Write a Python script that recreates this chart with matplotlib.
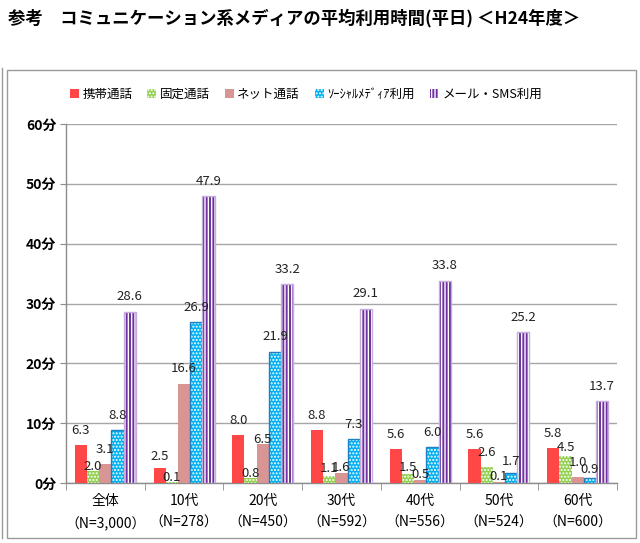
import numpy as np
import matplotlib.pyplot as plt
from matplotlib.patches import Rectangle
from matplotlib.lines import Line2D

plt.rcParams['font.family'] = ['Noto Sans CJK JP', 'DejaVu Sans']
plt.rcParams['hatch.linewidth'] = 1.0

# ---- data ----
groups = ['全体', '10代', '20代', '30代', '40代', '50代', '60代']
samples = ['（N=3,000）', '（N=278）', '（N=450）', '（N=592）', '（N=556）', '（N=524）', '（N=600）']
series = ['携帯通話', '固定通話', 'ネット通話', 'ｿｰｼｬﾙﾒﾃﾞｨｱ利用', 'メール・SMS利用']
mobile = [6.3, 2.5, 8.0, 8.8, 5.6, 5.6, 5.8]
landline = [2.0, 0.1, 0.8, 1.1, 1.5, 2.6, 4.5]
net_call = [3.1, 16.6, 6.5, 1.6, 0.5, 0.1, 1.0]
social = [8.8, 26.9, 21.9, 7.3, 6.0, 1.7, 0.9]
mail = [28.6, 47.9, 33.2, 29.1, 33.8, 25.2, 13.7]
values = [mobile, landline, net_call, social, mail]
yticks = [0, 10, 20, 30, 40, 50, 60]

# ---- style ----
faces = ['#FF4747', '#92D050', '#D99594', '#00B0F0', '#7030A0']
hatches = [None, '.....', None, '.....', '|||||']
outlines = [None, None, None, '#1F7FC0', '#C3AEDC']
# label lift (pixels above bar top, label centre); exceptions for small bars
lift_default = 15
lift_special = {(1, 0): 5, (1, 1): 5, (1, 2): 5, (2, 2): 5, (0, 1): 12,
                (1, 3): 8, (2, 3): 6, (1, 4): 7, (2, 4): 6, (2, 5): 6,
                (3, 5): 11, (1, 6): 9, (3, 6): 8}

fig = plt.figure(figsize=(6.4, 5.43), dpi=100)
ax = fig.add_axes([66 / 640, 1 - 483 / 543, 551 / 640, 359 / 543])

x = np.arange(len(groups))
w = 0.155
for i, vals in enumerate(values):
    pos = x + (i - 2) * w
    if hatches[i]:
        bars = ax.bar(pos, vals, w, color=faces[i], edgecolor='white',
                      hatch=hatches[i], linewidth=0, label=series[i], zorder=3)
    else:
        bars = ax.bar(pos, vals, w, color=faces[i], linewidth=0,
                      label=series[i], zorder=3)
    if outlines[i]:
        ax.bar(pos, vals, w, fill=False, edgecolor=outlines[i],
               linewidth=1.0, zorder=4)
    for j, (p, v) in enumerate(zip(pos, vals)):
        lift = lift_special.get((i, j), lift_default)
        ax.annotate(f'{v:.1f}', (p, v), xytext=(0, lift * 0.72),
                    textcoords='offset points', ha='center', va='center',
                    fontsize=9.5, color='#222222', zorder=5)

ax.set_xlim(-0.5, len(groups) - 0.5)
ax.set_ylim(0, 60)
ax.set_yticks(yticks)
ax.set_yticklabels([f'{t}分' for t in yticks], fontsize=10, fontweight='bold')
ax.yaxis.grid(True, color='#A6A6A6', linewidth=1.0, zorder=0)
ax.set_axisbelow(True)
ax.set_xticks(x)
ax.set_xticklabels([f'{g}\n{s}' for g, s in zip(groups, samples)],
                   fontsize=10, linespacing=1.7)
ax.set_xticks(np.arange(len(groups) + 1) - 0.5, minor=True)
ax.tick_params(axis='x', which='major', length=0, pad=8)
ax.tick_params(axis='x', which='minor', length=5, color='#8C8C8C')
ax.tick_params(axis='y', length=4, color='#8C8C8C', pad=3)
for s in ['top', 'right']:
    ax.spines[s].set_visible(False)
for s in ['left', 'bottom']:
    ax.spines[s].set_color('#8C8C8C')
    ax.spines[s].set_linewidth(1.0)

fig.legend(loc='center', bbox_to_anchor=(306 / 640, 1 - 94 / 543), ncol=5,
           frameon=False, fontsize=9, handlelength=0.7, handleheight=0.7,
           handletextpad=0.3, columnspacing=1.2)

# chart frame
fig.patches.append(Rectangle((7 / 640, 1 - 538 / 543), 629 / 640, 468 / 543,
                             transform=fig.transFigure, fill=False,
                             edgecolor='#9A9A9A', linewidth=1.0))
fig.lines.append(Line2D([2 / 640, 2 / 640], [1 - 538 / 543, 1 - 68 / 543],
                        transform=fig.transFigure, color='#9A9A9A', linewidth=1.0))

fig.text(8 / 640, 1 - 18 / 543,
         '参考　コミュニケーション系メディアの平均利用時間(平日) ＜H24年度＞',
         fontsize=12.5, fontweight='bold', va='center', ha='left')

fig.savefig('out.png', dpi=100)
